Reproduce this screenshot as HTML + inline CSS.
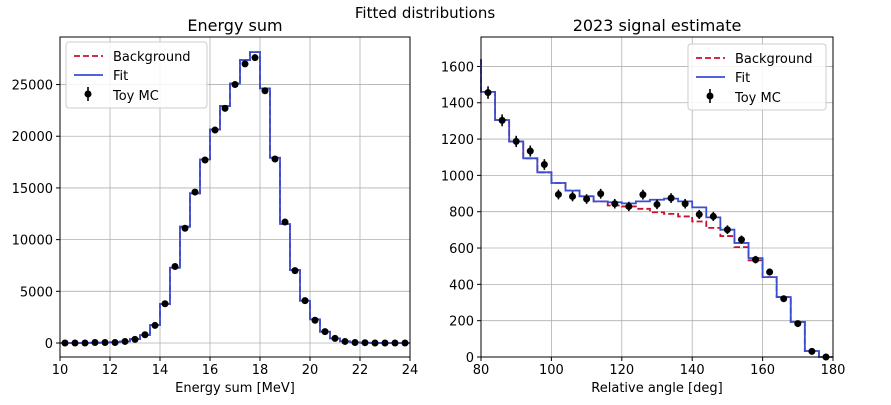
<!DOCTYPE html>
<html><head><meta charset="utf-8"><style>
body{margin:0;background:#fff;}
svg{font-family:"DejaVu Sans","Liberation Sans",sans-serif;}
</style></head><body>
<svg id="c" width="891" height="400" xmlns="http://www.w3.org/2000/svg">
<text x="425" y="18" text-anchor="middle" font-size="15">Fitted distributions</text>
<text x="235" y="31" text-anchor="middle" font-size="16">Energy sum</text>
<text x="657" y="31" text-anchor="middle" font-size="16">2023 signal estimate</text>
<text x="235" y="392" text-anchor="middle" font-size="13">Energy sum [MeV]</text>
<text x="657" y="392" text-anchor="middle" font-size="13">Relative angle [deg]</text>
<g id="L"></g><g id="R"></g>
</svg>
<script>
const lCenters=[10.2,10.6,11.0,11.4,11.8,12.2,12.6,13.0,13.4,13.8,14.2,14.6,15.0,15.4,15.8,16.2,16.6,17.0,17.4,17.8,18.2,18.6,19.0,19.4,19.8,20.2,20.6,21.0,21.4,21.8,22.2,22.6,23.0,23.4,23.8];
const lData=[0,0,0,50,50,50,150,350,800,1700,3800,7400,11100,14600,17700,20600,22700,25000,27000,27600,24400,17800,11700,7000,4100,2200,1100,450,150,50,30,0,0,0,0];
const lFit=[0,0,10,20,40,80,160,380,770,1740,3770,7280,11250,14480,17760,20660,22920,25110,27370,28140,24630,17920,11510,7060,4090,2290,1090,450,170,60,20,5,0,0,0];
const lXTicks=[10,12,14,16,18,20,22,24];
const lYTicks=[0,5000,10000,15000,20000,25000];
const rCenters=[82,86,90,94,98,102,106,110,114,118,122,126,130,134,138,142,146,150,154,158,162,166,170,174,178];
const rData=[1456,1303,1187,1134,1060,895,884,870,899,844,829,894,840,875,844,785,774,701,646,536,468,321,184,31,0];
const rFit=[1460,1305,1187,1094,1017,958,916,885,857,852,846,857,866,872,857,824,769,701,628,544,440,330,193,33,0];
const rBkg=[1460,1305,1187,1094,1017,958,916,885,857,834,829,816,797,788,774,746,711,666,605,532,440,330,193,33,0];
const rXTicks=[80,100,120,140,160,180];
const rYTicks=[0,200,400,600,800,1000,1200,1400,1600];
const NS="http://www.w3.org/2000/svg";
function mk(p,t,a){const e=document.createElementNS(NS,t);for(const k in a)e.setAttribute(k,a[k]);p.appendChild(e);return e;}
function panel(g,cfg){
 const {x0,x1,y0,y1,xmin,xmax,ymin,ymax}=cfg;
 const X=v=>x0+(v-xmin)/(xmax-xmin)*(x1-x0);
 const Y=v=>y1-(v-ymin)/(ymax-ymin)*(y1-y0);
 cfg.xt.forEach(t=>{const l=mk(g,'line',{x1:X(t),x2:X(t),y1:y0,y2:y1,stroke:'#b0b0b0','stroke-width':0.8});
  
  mk(g,'line',{x1:X(t),x2:X(t),y1:y1,y2:y1+4,stroke:'#000'});
  const tx=mk(g,'text',{x:X(t),y:y1+17,'text-anchor':'middle','font-size':13});tx.textContent=t;
  });
 cfg.yt.forEach(t=>{const l=mk(g,'line',{x1:x0,x2:x1,y1:Y(t),y2:Y(t),stroke:'#b0b0b0','stroke-width':0.8});
  
  mk(g,'line',{x1:x0-4,x2:x0,y1:Y(t),y2:Y(t),stroke:'#000'});
  const tx=mk(g,'text',{x:x0-7,y:Y(t)+5,'text-anchor':'end','font-size':13});tx.textContent=t;
  });
 const w=cfg.bw;
 function step(vals,col,dash,name,lead){
  let d='';
  cfg.c.forEach((c,i)=>{const a=X(c-w/2),b=X(c+w/2),y=Y(vals[i]);d+=(i==0?(lead!=null?'M'+a+' '+Y(lead)+' L':'M'):'L')+a+' '+y+' L'+b+' '+y+' ';});
  const p=mk(g,'path',{d:d,fill:'none',stroke:col,'stroke-width':1.8});
  if(dash)p.setAttribute('stroke-dasharray',dash);
  
 }
 step(cfg.bkg,'#c8102e','6,3','background-line',cfg.lead);
 step(cfg.fit,'#3a4fd0',null,'fit-line',cfg.lead);
 cfg.c.forEach((c,i)=>{const v=cfg.data[i];const e=cfg.err(v);
  const ln=mk(g,'line',{x1:X(c),x2:X(c),y1:Y(v+e),y2:Y(Math.max(v-e,ymin)),stroke:'#000','stroke-width':1.6});
  
  const pt=mk(g,'circle',{cx:X(c),cy:Y(v),r:3.5,fill:'#000'});
  });
 const fr=mk(g,'rect',{x:x0,y:y0,width:x1-x0,height:y1-y0,fill:'none',stroke:'#000','stroke-width':1});
 
 const lg=mk(g,'g',{});
 const lx=cfg.lx,ly=cfg.ly;
 mk(lg,'rect',{x:lx,y:ly,width:cfg.lw,height:66,rx:3,fill:'#fff','fill-opacity':0.85,stroke:'#ccc'});
 mk(lg,'line',{x1:lx+8,x2:lx+37,y1:ly+14,y2:ly+14,stroke:'#c8102e','stroke-width':1.8,'stroke-dasharray':'6,3'});
 mk(lg,'line',{x1:lx+8,x2:lx+37,y1:ly+33,y2:ly+33,stroke:'#3a4fd0','stroke-width':1.8});
 mk(lg,'line',{x1:lx+22,x2:lx+22,y1:ly+45,y2:ly+59,stroke:'#000','stroke-width':1.6});
 mk(lg,'circle',{cx:lx+22,cy:ly+52,r:3.5,fill:'#000'});
 [['Background',19],['Fit',38],['Toy MC',58]].forEach(([t,dy])=>{const tx=mk(lg,'text',{x:lx+47,y:ly+dy,'font-size':13});tx.textContent=t;});
}
panel(document.getElementById('L'),{x0:60,x1:410,y0:37,y1:357,xmin:10,xmax:24,ymin:-1354,ymax:29600,
 xt:lXTicks,yt:lYTicks,c:lCenters,data:lData,fit:lFit,bkg:lFit,bw:0.4,err:v=>Math.sqrt(v),lx:66,ly:42,lw:141,lead:null});
panel(document.getElementById('R'),{x0:481,x1:833,y0:37,y1:357,xmin:80,xmax:180,ymin:0,ymax:1762,
 xt:rXTicks,yt:rYTicks,c:rCenters,data:rData,fit:rFit,bkg:rBkg,bw:4,err:v=>Math.sqrt(v)*0.9,lx:688,ly:44,lw:138,lead:1640});
</script>
</body></html>
